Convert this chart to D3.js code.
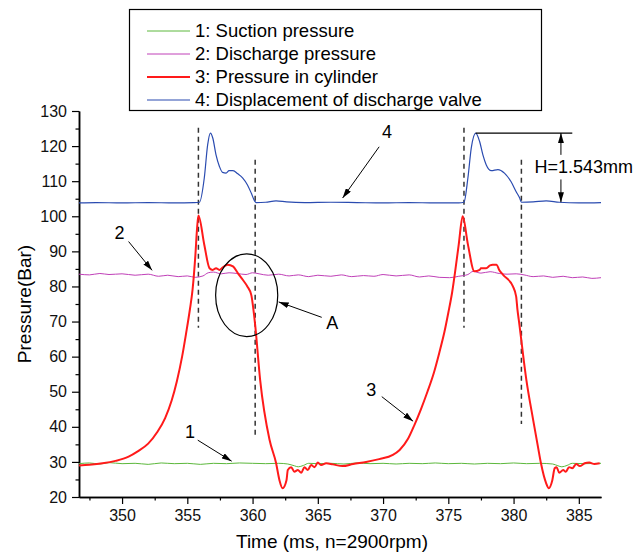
<!DOCTYPE html>
<html>
<head>
  <meta charset="utf8">
  <title>Pressure in cylinder</title>
  <style>
    * { margin: 0; padding: 0; }
    body { background: #fff; }
    text { font-family: "Liberation Sans", Arial, sans-serif; }
  </style>
</head>
<body>
  <script src="https://cdn.jsdelivr.net/npm/d3@7"></script>
  <script>
    var w = 638
    var h = 552

    // time in ms, value in bar
    var suction = [[346.7, 29.5], [347.5, 29.7], [348.3, 29.4], [349, 29.8], [350, 29.5], [351, 29.6], [352, 29.3], [353, 29.7],
      [354, 29.5], [355, 29.6], [356, 29.3], [357, 29.6], [358, 29.5], [359, 29.7], [360, 29.6], [361, 29.5], [362, 29.6],
      [362.7, 29.4], [363.2, 28.9], [363.5, 28.6], [363.9, 29.0], [364.3, 29.6], [365, 29.5], [366, 29.6], [367, 29.4],
      [368, 29.7], [369, 29.5], [370, 29.6], [371, 29.4], [372, 29.6], [373, 29.5], [374, 29.7], [375, 29.5], [376, 29.6],
      [377, 29.4], [378, 29.6], [379, 29.5], [380, 29.7], [381, 29.5], [382, 29.6], [383, 29.4], [383.4, 28.9], [383.7, 28.6],
      [384.1, 29.0], [384.5, 29.6], [385.5, 29.5], [386.7, 29.6]]

    var discharge = [[346.7, 83.5], [347.5, 83.3], [348.3, 83.7], [349, 83.4], [350, 83.6], [351, 83.2], [352, 83.5], [352.8, 82.9],
      [353.5, 83.2], [354.3, 82.8], [355, 83.0], [355.6, 82.6], [356.2, 83.0], [356.6, 83.9], [357, 84.1], [357.6, 83.6],
      [358.2, 83.9], [358.8, 83.7], [359.5, 83.4], [360, 83.9], [360.5, 83.6], [361.2, 83.2], [362, 83.5], [362.8, 83.0],
      [363.5, 83.3], [364.3, 82.8], [365, 83.2], [366, 82.9], [366.8, 83.3], [367.6, 82.8], [368.5, 83.1], [369.3, 82.9],
      [370, 83.4], [371, 83.0], [372, 83.3], [372.8, 82.7], [373.5, 83.0], [374.3, 82.6], [375.1, 82.5], [375.8, 82.9],
      [376.5, 83.4], [376.9, 84.3], [377.5, 83.8], [378.2, 84.2], [378.9, 83.7], [379.5, 83.5], [380.2, 83.6], [380.8, 83.3],
      [381.5, 82.8], [382.3, 83.0], [383, 82.6], [383.8, 82.9], [384.5, 82.5], [385.3, 82.7], [386, 82.3], [386.7, 82.5]]

    var cylinder = [[346.7, 29.0], [347.5, 29.2], [348.5, 29.6], [349.5, 30.3], [350.5, 31.5], [351.2, 33], [352, 35.2], [352.7, 38.5],
      [353.3, 42.5], [353.8, 47.5], [354.2, 53], [354.6, 60], [354.9, 66.5], [355.2, 73.5], [355.4, 79], [355.62, 89], [355.75, 96.7],
      [355.85, 100.2], [356.3, 91.9], [356.7, 85.2], [356.95, 84.7], [357.2, 85.2], [357.46, 84.7], [357.7, 85.4], [358.1, 86.2],
      [358.5, 85.7], [358.87, 83.8], [359.25, 81.9], [359.6, 80], [359.9, 77.6], [360.2, 69], [360.58, 53.4], [361.3, 36.3],
      [361.8, 29.7], [362.06, 24.8], [362.3, 22.5], [362.6, 24.8], [362.7, 27.7], [362.96, 28.5], [363.2, 27.2], [363.47, 27.7],
      [363.73, 26.9], [363.98, 28.5], [364.23, 27.7], [364.49, 29.1], [364.75, 28.5], [365, 29.8], [365.26, 29.1], [365.64, 29.6],
      [366.15, 29.3], [366.9, 28.8], [367.7, 29.4], [368.7, 30], [369.7, 30.8], [370.75, 32], [371.27, 33.4], [371.9, 36.5],
      [372.4, 40.5], [372.9, 45], [373.4, 50], [373.9, 55.5], [374.3, 61], [374.7, 67], [375.0, 72.5], [375.3, 78.5],
      [375.55, 85], [375.8, 92], [376.1, 100],
      [376.5, 92], [377.0, 84.3], [377.4, 84.7], [377.5, 85.2], [377.9, 85.2], [378.2, 86], [378.4, 86.2], [378.7, 86.2],
      [378.9, 84.7], [379.2, 83.3], [379.95, 80], [380.2, 77.1], [380.3, 73.3], [380.4, 70.5], [380.98, 53.4], [381.5, 42],
      [381.87, 34.3], [382.1, 29.6], [382.5, 23.9], [382.7, 22.5], [382.97, 24.8], [383.15, 28.2], [383.3, 28.5], [383.5, 26.9],
      [383.8, 27.7], [384, 27.2], [384.25, 28.5], [384.5, 28.2], [384.8, 29.4], [385.07, 28.8], [385.45, 29.6], [385.8, 29.8],
      [386.2, 29.4], [386.6, 29.6]]

    var valve = [[346.7, 103.8], [348, 103.9], [350, 103.8], [352, 103.9], [354, 103.8], [355.5, 103.9], [355.93, 104],
      [356.3, 110.9], [356.56, 120.4], [356.77, 123.7], [356.95, 122.3], [357.2, 117.5], [357.46, 114.2], [357.7, 112.5],
      [357.97, 112.3], [358.2, 113], [358.5, 113], [358.87, 112.1], [359.25, 110.9], [359.6, 109], [359.9, 106.6], [360.15, 104.4],
      [360.27, 103.9], [361, 104.0], [361.8, 104.4], [362.6, 104.1], [364, 103.9], [366, 104.0], [368, 103.9], [370, 103.8],
      [372, 103.9], [374, 103.8], [375.8, 103.8], [376.2, 104], [376.5, 110.9], [376.76, 119.5], [377.1, 123.7], [377.4, 121.3],
      [377.65, 117.5], [377.9, 114.7], [378.3, 113], [378.8, 113.3], [379.3, 112.3], [379.8, 109.9], [380.2, 107], [380.47, 105.2],
      [380.6, 104], [381.5, 104.1], [382.5, 104.4], [383.5, 104.0], [385, 103.8], [386.7, 103.9]]

    var xTicks = [350, 355, 360, 365, 370, 375, 380, 385]
    var xMinor = [347.5, 352.5, 357.5, 362.5, 367.5, 372.5, 377.5, 382.5]
    var yTicks = [20, 30, 40, 50, 60, 70, 80, 90, 100, 110, 120, 130]
    var yMinor = [25, 35, 45, 55, 65, 75, 85, 95, 105, 115, 125]

    var legendNames = ['1: Suction pressure', '2: Discharge pressure', '3: Pressure in cylinder', '4: Displacement of discharge valve']
    var colors = ['#5cb83c', '#c040b8', '#ff1a1a', '#2a4bb0']
    var widths = [1, 1, 2, 1.2]

    // valve open / close times, with the vertical extent of the dashed markers
    var dashes = [[355.85, 125.2, 68.2], [360.2, 116.1, 37.7], [376.2, 125.2, 68.2], [380.6, 116.1, 40.8]]

    // number labels with arrows: [label, labelT, labelV, fromT, fromV, toT, toV]
    var callouts = [
      ['2', 349.8, 95.3, 350.5, 92.8, 352.3, 84.6],
      ['1', 355.2, 38.6, 355.8, 36.2, 358.4, 30.2],
      ['A', 366.1, 69.6, 365.3, 71.2, 362, 75.6],
      ['4', 370.3, 124, 369.7, 119.8, 366.9, 105.2],
      ['3', 369.1, 50.5, 369.9, 48.6, 372.3, 41.6]
    ]

    var xScale = d3.scaleLinear().domain([346.7, 386.7]).range([79, 601])
    var yScale = d3.scaleLinear().domain([20, 130]).range([497, 111])

    var svg = d3.select('body').append('svg').attr('width', w).attr('height', h)

    svg.append('defs').append('marker')
      .attr('id', 'head')
      .attr('viewBox', '0 0 10 6')
      .attr('refX', 10).attr('refY', 3)
      .attr('markerWidth', 10).attr('markerHeight', 6)
      .attr('markerUnits', 'userSpaceOnUse')
      .attr('orient', 'auto-start-reverse')
      .append('path').attr('d', 'M0,0 L10,3 L0,6 Z').attr('fill', '#000')

    // axes
    function styleAxis(g) {
      g.selectAll('path').attr('stroke', '#000').attr('stroke-width', 1.5)
      g.selectAll('line').attr('stroke', '#000').attr('stroke-width', 1.2)
      g.selectAll('text').attr('font-size', '16px').attr('fill', '#111')
    }

    svg.append('g').attr('transform', 'translate(0,497)')
      .call(d3.axisBottom(xScale).tickValues(xMinor).tickSize(3.5).tickSizeOuter(0).tickFormat(''))
      .call(styleAxis)
    svg.append('g').attr('transform', 'translate(0,497)')
      .call(d3.axisBottom(xScale).tickValues(xTicks).tickSize(7).tickSizeOuter(0).tickPadding(6))
      .call(styleAxis)
    svg.append('g').attr('transform', 'translate(79,0)')
      .call(d3.axisLeft(yScale).tickValues(yMinor).tickSize(3.5).tickSizeOuter(0).tickFormat(''))
      .call(styleAxis)
    svg.append('g').attr('transform', 'translate(79,0)')
      .call(d3.axisLeft(yScale).tickValues(yTicks).tickSize(7).tickSizeOuter(0).tickPadding(5))
      .call(styleAxis)

    svg.append('text')
      .attr('x', 332).attr('y', 548)
      .attr('text-anchor', 'middle')
      .attr('font-size', '19px')
      .text('Time (ms, n=2900rpm)')
    svg.append('text')
      .attr('transform', 'translate(31,' + ((111 + 497) / 2) + ') rotate(-90)')
      .attr('text-anchor', 'middle')
      .attr('font-size', '19px')
      .text('Pressure(Bar)')

    // dashed markers
    svg.selectAll('.dash')
      .data(dashes)
      .enter()
      .append('line')
      .attr('x1', d => xScale(d[0])).attr('x2', d => xScale(d[0]))
      .attr('y1', d => yScale(d[1])).attr('y2', d => yScale(d[2]))
      .attr('stroke', '#333')
      .attr('stroke-width', 1.5)
      .attr('stroke-dasharray', '5,4')

    var line = d3.line()
      .x(d => xScale(d[0]))
      .y(d => yScale(d[1]))
      .curve(d3.curveMonotoneX)

    var series = [suction, discharge, valve, cylinder]
    var order = [0, 1, 3, 2]
    svg.selectAll('.series')
      .data(series)
      .enter()
      .append('path')
      .attr('d', line)
      .attr('fill', 'none')
      .attr('stroke', (d, i) => colors[order[i]])
      .attr('stroke-width', (d, i) => widths[order[i]])

    // ellipse A
    var ellipseC = [359.55, 77.5]
    var ellipseR = [2.38, 11.8]
    svg.append('ellipse')
      .attr('cx', xScale(ellipseC[0])).attr('cy', yScale(ellipseC[1]))
      .attr('rx', xScale(346.7 + ellipseR[0]) - xScale(346.7))
      .attr('ry', yScale(20) - yScale(20 + ellipseR[1]))
      .attr('fill', 'none')
      .attr('stroke', '#000')
      .attr('stroke-width', 1.2)

    // callouts
    svg.selectAll('.callout')
      .data(callouts)
      .enter()
      .append('line')
      .attr('x1', d => xScale(d[3])).attr('y1', d => yScale(d[4]))
      .attr('x2', d => xScale(d[5])).attr('y2', d => yScale(d[6]))
      .attr('stroke', '#000')
      .attr('stroke-width', 1)
      .attr('marker-end', 'url(#head)')
    svg.selectAll('.calloutText')
      .data(callouts)
      .enter()
      .append('text')
      .attr('x', d => xScale(d[1])).attr('y', d => yScale(d[2]))
      .attr('dy', '0.35em')
      .attr('text-anchor', 'middle')
      .attr('font-size', '18px')
      .text(d => d[0])

    // H annotation
    var peakV = 123.7
    var baseV = 104
    var hT = 383.63
    svg.append('line')
      .attr('x1', xScale(377.1)).attr('x2', xScale(384.5))
      .attr('y1', yScale(peakV)).attr('y2', yScale(peakV))
      .attr('stroke', '#000').attr('stroke-width', 1.2)
    svg.append('line')
      .attr('x1', xScale(hT)).attr('x2', xScale(hT))
      .attr('y1', yScale(117.5)).attr('y2', yScale(peakV))
      .attr('stroke', '#000').attr('stroke-width', 1)
      .attr('marker-end', 'url(#head)')
    svg.append('line')
      .attr('x1', xScale(hT)).attr('x2', xScale(hT))
      .attr('y1', yScale(110.5)).attr('y2', yScale(baseV))
      .attr('stroke', '#000').attr('stroke-width', 1)
      .attr('marker-end', 'url(#head)')
    svg.append('text')
      .attr('x', xScale(381.6)).attr('y', yScale(114.2))
      .attr('dy', '0.35em')
      .attr('font-size', '18px')
      .text('H=1.543mm')

    // legend
    var legend = svg.append('g')
    legend.append('rect')
      .attr('x', 129.5).attr('y', 9.5).attr('width', 412).attr('height', 101)
      .attr('fill', '#fff').attr('stroke', '#000').attr('stroke-width', 1.2)
    legendNames.forEach((name, i) => {
      var yy = 31 + i * 23
      legend.append('line')
        .attr('x1', 147).attr('x2', 190).attr('y1', yy).attr('y2', yy)
        .attr('stroke', colors[i]).attr('stroke-width', widths[i])
      legend.append('text')
        .attr('x', 195).attr('y', yy).attr('dy', '0.35em')
        .attr('font-size', '18.5px')
        .text(name)
    })
  </script>
</body>
</html>
